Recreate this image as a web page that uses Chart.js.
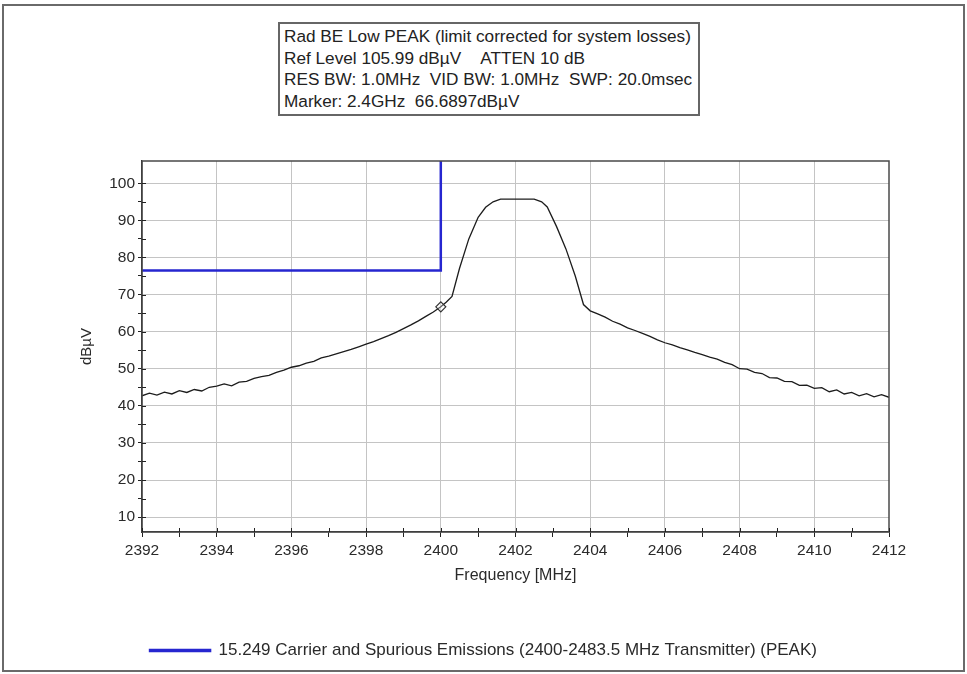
<!DOCTYPE html>
<html>
<head>
<meta charset="utf-8">
<script src="https://cdn.jsdelivr.net/npm/chart.js@4.4.1/dist/chart.umd.min.js"></script>
<style>
  html, body { margin:0; padding:0; background:#fff; }
  #wrap { position:relative; width:967px; height:674px; overflow:hidden; }
  #frame { position:absolute; left:2px; top:4px; width:959px; height:664px; border:2px solid #6a6a6a; pointer-events:none; }
  #c { position:absolute; left:0; top:0; }
  #info { position:absolute; left:278px; top:22px; width:414px; height:88px; border:2px solid #666;
          background:#fff; font-family:'Liberation Sans', Arial, sans-serif; font-size:17.2px; color:#222;
          padding:2px 0 0 4px; line-height:21.5px; white-space:nowrap; overflow:hidden; }
</style>
</head>
<body>
<div id="wrap">
  <canvas id="c" width="967" height="674"></canvas>
  <div id="frame"></div>
  <div id="info">
    <div>Rad BE Low PEAK (limit corrected for system losses)</div>
    <div>Ref Level 105.99 dBµV&nbsp;&nbsp;&nbsp;&nbsp;ATTEN 10 dB</div>
    <div>RES BW: 1.0MHz&nbsp;&nbsp;VID BW: 1.0MHz&nbsp;&nbsp;SWP: 20.0msec</div>
    <div>Marker: 2.4GHz&nbsp;&nbsp;66.6897dBµV</div>
  </div>
</div>
<script>
// ---- data ----
const traceFreqs = [
  2392.0,2392.2,2392.4,2392.6,2392.8,2393.0,2393.2,2393.4,2393.6,2393.8,
  2394.0,2394.2,2394.4,2394.6,2394.8,2395.0,2395.2,2395.4,2395.6,2395.8,
  2396.0,2396.2,2396.4,2396.6,2396.8,2397.0,2397.2,2397.4,2397.6,2397.8,
  2398.0,2398.2,2398.4,2398.6,2398.8,2399.0,2399.2,2399.4,2399.6,2399.8,
  2400.0,2400.15,2400.3,2400.5,2400.75,2401.0,2401.2,2401.4,2401.6,2402.0,
  2402.5,2402.7,2402.85,2403.1,2403.35,2403.6,2403.82,2404.0,2404.2,2404.4,
  2404.6,2404.8,2405.0,2405.2,2405.4,2405.6,2405.8,2406.0,2406.2,2406.4,
  2406.6,2406.8,2407.0,2407.2,2407.4,2407.6,2407.8,2408.0,2408.2,2408.4,
  2408.6,2408.8,2409.0,2409.2,2409.4,2409.6,2409.8,2410.0,2410.2,2410.4,
  2410.6,2410.8,2411.0,2411.2,2411.4,2411.6,2411.8,2412.0
];
const traceLevels = [
  42.7,43.4,42.9,43.7,43.2,44.1,43.6,44.4,44.0,45.0,
  45.3,45.9,45.4,46.4,46.6,47.4,47.9,48.2,49.0,49.6,
  50.4,50.8,51.5,52.0,52.9,53.4,54.0,54.6,55.2,55.9,
  56.6,57.3,58.1,58.9,59.8,60.8,61.8,62.9,64.1,65.3,
  66.7,68.0,69.5,77.0,85.0,90.8,93.5,95.0,95.7,95.7,
  95.7,95.0,93.6,88.3,82.3,75.0,67.3,65.6,64.8,63.9,
  62.8,62.0,61.0,60.3,59.5,58.7,57.8,57.0,56.4,55.7,
  55.1,54.4,53.8,53.1,52.6,51.7,51.1,50.0,49.9,49.0,
  48.7,47.6,47.5,46.6,46.5,45.5,45.6,44.7,44.9,43.8,
  44.3,43.2,43.6,42.7,43.3,42.4,43.0,42.3
];
const limitFreqs  = [2392, 2400, 2400];
const limitLevels = [76.5, 76.5, 105.99];
const markerFreq  = [2400];
const markerLevel = [66.69];
const xTickValues = [2392,2393,2394,2395,2396,2397,2398,2399,2400,2401,2402,2403,2404,2405,2406,2407,2408,2409,2410,2411,2412];
const xTickLabels = [2392,2394,2396,2398,2400,2402,2404,2406,2408,2410,2412];
const yTickValues = [10,15,20,25,30,35,40,45,50,55,60,65,70,75,80,85,90,95,100];
const yTickLabels = [10,20,30,40,50,60,70,80,90,100];
const limitName = '15.249 Carrier and Spurious Emissions (2400-2483.5 MHz Transmitter) (PEAK)';

const FONT = "'Liberation Sans', Arial, sans-serif";
const TXT = '#2a2a2a';

const innerTicks = {
  id: 'innerTicks',
  afterDraw(chart) {
    const {ctx, chartArea: a, scales: {x, y}} = chart;
    ctx.save();
    ctx.strokeStyle = '#4a4a4a';
    ctx.lineWidth = 1.5;
    ctx.strokeRect(a.left, a.top, a.right - a.left, a.bottom - a.top);
    ctx.strokeStyle = '#222';
    ctx.lineWidth = 1;
    ctx.beginPath();
    xTickValues.forEach(v => { const px = Math.round(x.getPixelForValue(v)) + 0.5; ctx.moveTo(px, a.bottom); ctx.lineTo(px, a.bottom - 4); });
    yTickValues.forEach(v => { const py = Math.round(y.getPixelForValue(v)) + 0.5; ctx.moveTo(a.left, py); ctx.lineTo(a.left + 4, py); });
    ctx.stroke();
    ctx.restore();
  }
};

new Chart(document.getElementById('c'), {
  type: 'line',
  data: {
    datasets: [
      { label: 'trace', data: traceFreqs.map((f, i) => ({x: f, y: traceLevels[i]})),
        borderColor: '#1c1c1c', borderWidth: 1.3, pointRadius: 0, tension: 0, order: 2 },
      { label: limitName, data: limitFreqs.map((f, i) => ({x: f, y: limitLevels[i]})),
        borderColor: '#2626d0', backgroundColor: '#2626d0', borderWidth: 2.5, pointRadius: 0, tension: 0, order: 1 },
      { label: 'marker', data: markerFreq.map((f, i) => ({x: f, y: markerLevel[i]})),
        showLine: false, pointStyle: 'rectRot', pointRadius: 5, pointBorderWidth: 1.2,
        pointBorderColor: '#333', pointBackgroundColor: 'rgba(255,255,255,0.3)', order: 0 }
    ]
  },
  options: {
    responsive: false,
    animation: false,
    layout: { padding: { top: 161, right: 0, bottom: 5, left: 0 } },
    plugins: {
      legend: {
        position: 'bottom',
        labels: {
          filter: item => item.datasetIndex === 1,
          boxWidth: 60, boxHeight: 1, padding: 10,
          color: TXT, font: { family: FONT, size: 17 }
        }
      },
      tooltip: { enabled: false }
    },
    scales: {
      x: {
        type: 'linear', min: 2392, max: 2412,
        afterBuildTicks: s => { s.ticks = xTickValues.map(v => ({value: v})); },
        afterFit: s => { s.height = 100; },
        ticks: {
          autoSkip: false, maxRotation: 0, padding: 4, color: TXT,
          font: { family: FONT, size: 15.5 },
          callback: v => xTickLabels.includes(v) ? String(v) : ''
        },
        grid: {
          tickLength: 5,
          color: c => (c.tick && xTickLabels.includes(c.tick.value) && c.tick.value !== 2392 && c.tick.value !== 2412) ? '#c4c4c4' : 'rgba(0,0,0,0)',
          tickColor: '#222', lineWidth: 1
        },
        border: { color: '#222', width: 1.3 },
        title: { display: true, text: 'Frequency [MHz]', color: TXT, font: { family: FONT, size: 16 },
                 padding: { top: 0, bottom: 47 } }
      },
      y: {
        type: 'linear', min: 5.99, max: 105.99,
        afterBuildTicks: s => { s.ticks = yTickValues.map(v => ({value: v})); },
        afterFit: s => { s.width = 142; },
        ticks: {
          autoSkip: false, padding: 3, color: TXT,
          font: { family: FONT, size: 15.5 },
          callback: v => yTickLabels.includes(v) ? String(v) : ''
        },
        grid: {
          tickLength: 4,
          color: c => (c.tick && yTickLabels.includes(c.tick.value)) ? '#c4c4c4' : 'rgba(0,0,0,0)',
          tickColor: '#222', lineWidth: 1
        },
        border: { color: '#222', width: 1.3 },
        title: { display: true, text: 'dBµV', color: TXT, font: { family: FONT, size: 15 },
                 padding: { top: 78, bottom: 0 } }
      },
      yRightSpace: {
        type: 'linear', position: 'right', min: 5.99, max: 105.99,
        afterFit: s => { s.width = 78; },
        ticks: { display: false },
        grid: { display: false, drawOnChartArea: false, drawTicks: false },
        border: { display: false },
        title: { display: false }
      }
    }
  },
  plugins: [innerTicks]
});
</script>
</body>
</html>
